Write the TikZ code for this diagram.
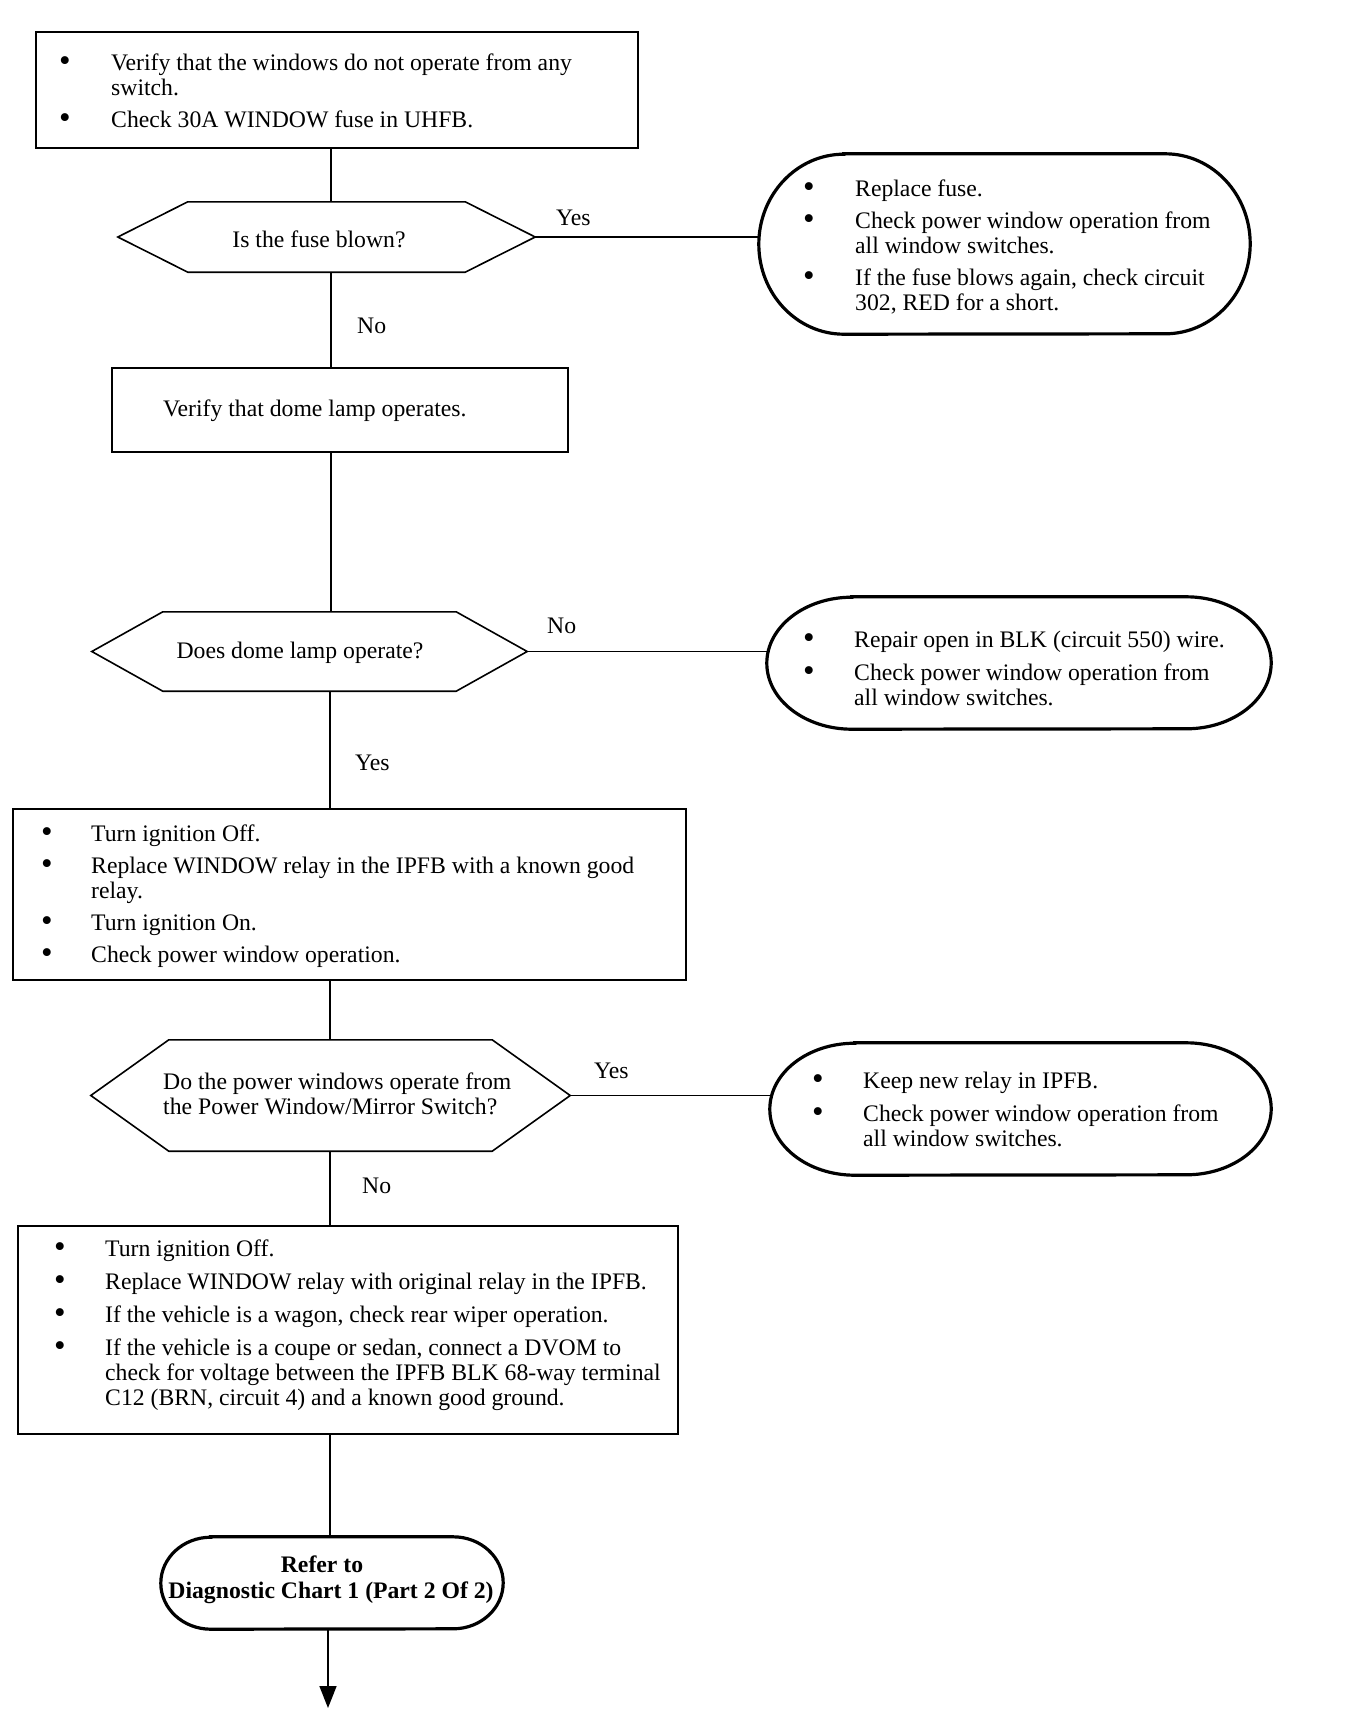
\documentclass[tikz,border=0pt]{standalone}
\usepackage{fontspec}
\setmainfont{Liberation Serif}
\usetikzlibrary{arrows.meta}
\newcommand{\hexpath}[2]{\draw[hexline] (#1.west) -- ([xshift=#2]#1.north west) -- ([xshift=-#2]#1.north east) -- (#1.east) -- ([xshift=-#2]#1.south east) -- ([xshift=#2]#1.south west) -- cycle;}
\newcommand{\stadpath}[3]{\draw[stadline] ([xshift=#2]#1.north west) -- ([xshift=-#2]#1.north east) arc[start angle=90,end angle=-90,x radius=#2,y radius=#3] -- ([xshift=#2]#1.south west) arc[start angle=270,end angle=90,x radius=#2,y radius=#3] -- cycle;}
\begin{document}
\begin{tikzpicture}[x=1pt,y=-1pt,
  sq/.style={draw, line width=1.8pt, inner sep=0pt},
  ghost/.style={inner sep=0pt},
  hexline/.style={line width=1.6pt, line join=miter},
  stadline/.style={line width=3.2pt},
  conn/.style={line width=1.6pt},
  txt/.style={inner sep=0pt, align=left, anchor=base west, font=\fontsize{23.7}{25}\selectfont},
  bul/.style={inner sep=0pt, anchor=base, font=\fontsize{33}{33}\selectfont},
  lab/.style={inner sep=0pt, anchor=base west, font=\fontsize{23.7}{25}\selectfont},
  ctr/.style={inner sep=0pt, anchor=base, font=\fontsize{23.7}{25}\selectfont},
  bld/.style={inner sep=0pt, anchor=base, font=\fontsize{23.7}{25}\selectfont\bfseries}]
\useasboundingbox[fill=white] (0,0) rectangle (1344,1716);

% ---------- shapes ----------
\node[sq, minimum width=602pt, minimum height=116pt] (top) at (337,90) {};
\node[ghost, minimum width=417pt, minimum height=70pt] (h1) at (326.5,237) {};
\hexpath{h1}{70pt}
\node[ghost, minimum width=491pt, minimum height=180pt] (rb1) at (1004.5,244) {};
\stadpath{rb1}{85pt}{90pt}
\node[sq, minimum width=456pt, minimum height=84pt] (b2) at (340,410) {};
\node[ghost, minimum width=435pt, minimum height=79pt] (h2) at (309.5,651.5) {};
\hexpath{h2}{71pt}
\node[ghost, minimum width=504pt, minimum height=132pt] (rb2) at (1019,663) {};
\stadpath{rb2}{85pt}{66pt}
\node[sq, minimum width=673pt, minimum height=171pt] (b3) at (349.5,894.5) {};
\node[ghost, minimum width=479pt, minimum height=111pt] (h3) at (330.5,1095.5) {};
\hexpath{h3}{78pt}
\node[ghost, minimum width=501pt, minimum height=132pt] (rb3) at (1020.5,1109) {};
\stadpath{rb3}{85pt}{66pt}
\node[sq, minimum width=660pt, minimum height=208pt] (b4) at (348,1330) {};
\node[ghost, minimum width=342pt, minimum height=92pt] (term) at (332,1583) {};
\stadpath{term}{50pt}{46pt}

% ---------- connectors ----------
\coordinate (tA) at (331,0);
\coordinate (tB) at (330,0);
\coordinate (endpt) at (328,1708);
\draw[conn] (top.south -| tA) -- (h1.north -| tA);
\draw[conn] (h1.south -| tA) -- (b2.north -| tA);
\draw[conn] (b2.south -| tA) -- (h2.north -| tA);
\draw[conn] (h2.south -| tB) -- (b3.north -| tB);
\draw[conn] (b3.south -| tB) -- (h3.north -| tB);
\draw[conn] (h3.south -| tB) -- (b4.north -| tB);
\draw[conn] (b4.south -| tB) -- (term.north -| tB);
\draw[conn, -{Triangle[width=17pt,length=22pt]}] (term.south -| endpt) -- (endpt);
\draw[conn] (h1.east) -- (h1.east -| rb1.west);
\draw[conn] (h2.east) -- (h2.east -| rb2.west);
\draw[conn] (h3.east) -- (h3.east -| rb3.west);

% ---------- labels ----------
\node[lab] (y1) at (556,225) {Yes};
\node[lab] (n1) at (357,333) {No};
\node[lab] (n2) at (547,633) {No};
\node[lab] (y2) at (355,770) {Yes};
\node[lab] (y3) at (594,1078) {Yes};
\node[lab] (n3) at (362,1193) {No};

% ---------- texts (multi-line nodes are placed at the baseline of their last line) ----------
\node[bul] (topb1) at (65,71) {\textbullet};
\node[txt] (topt1) at (111,95) {Verify that the windows do not operate from any\\switch.};
\node[bul] (topb2) at (65,128) {\textbullet};
\node[txt] (topt2) at (111,127) {Check 30A WINDOW fuse in UHFB.};

\node[ctr] (h1t) at (319,247) {Is the fuse blown?};

\node[bul] (rb1b1) at (809,197) {\textbullet};
\node[txt] (rb1t1) at (855,196) {Replace fuse.};
\node[bul] (rb1b2) at (809,229) {\textbullet};
\node[txt] (rb1t2) at (855,253) {Check power window operation from\\all window switches.};
\node[bul] (rb1b3) at (809,286) {\textbullet};
\node[txt] (rb1t3) at (855,310) {If the fuse blows again, check circuit\\302, RED for a short.};

\node[txt] (b2t) at (163,416) {Verify that dome lamp operates.};

\node[ctr] (h2t) at (300,658) {Does dome lamp operate?};

\node[bul] (rb2b1) at (809,648) {\textbullet};
\node[txt] (rb2t1) at (854,647) {Repair open in BLK (circuit 550) wire.};
\node[bul] (rb2b2) at (809,681) {\textbullet};
\node[txt] (rb2t2) at (854,705) {Check power window operation from\\all window switches.};

\node[bul] (b3b1) at (47,842) {\textbullet};
\node[txt] (b3t1) at (91,841) {Turn ignition Off.};
\node[bul] (b3b2) at (47,874) {\textbullet};
\node[txt] (b3t2) at (91,898) {Replace WINDOW relay in the IPFB with a known good\\relay.};
\node[bul] (b3b3) at (47,931) {\textbullet};
\node[txt] (b3t3) at (91,930) {Turn ignition On.};
\node[bul] (b3b4) at (47,963) {\textbullet};
\node[txt] (b3t4) at (91,962) {Check power window operation.};

\node[txt] (h3t) at (163,1114) {Do the power windows operate from\\the Power Window/Mirror Switch?};

\node[bul] (rb3b1) at (818,1089) {\textbullet};
\node[txt] (rb3t1) at (863,1088) {Keep new relay in IPFB.};
\node[bul] (rb3b2) at (818,1122) {\textbullet};
\node[txt] (rb3t2) at (863,1146) {Check power window operation from\\all window switches.};

\node[bul] (b4b1) at (60,1257) {\textbullet};
\node[txt] (b4t1) at (105,1256) {Turn ignition Off.};
\node[bul] (b4b2) at (60,1290) {\textbullet};
\node[txt] (b4t2) at (105,1289) {Replace WINDOW relay with original relay in the IPFB.};
\node[bul] (b4b3) at (60,1323) {\textbullet};
\node[txt] (b4t3) at (105,1322) {If the vehicle is a wagon, check rear wiper operation.};
\node[bul] (b4b4) at (60,1356) {\textbullet};
\node[txt] (b4t4) at (105,1405) {If the vehicle is a coupe or sedan, connect a DVOM to\\check for voltage between the IPFB BLK 68-way terminal\\C12 (BRN, circuit 4) and a known good ground.};

\node[bld] (tt1) at (322,1572) {Refer to};
\node[bld] (tt2) at (331,1598) {Diagnostic Chart 1 (Part 2 Of 2)};
\end{tikzpicture}
\end{document}
